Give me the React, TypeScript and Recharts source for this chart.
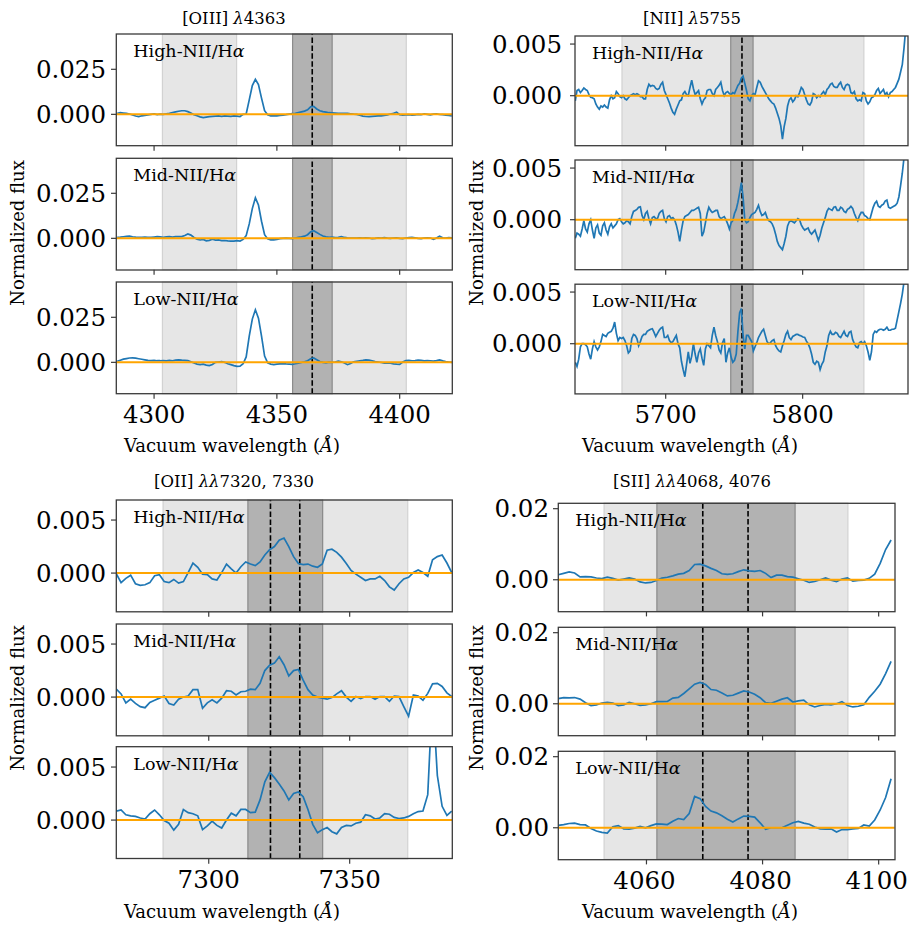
import React from "react";
import {
  LineChart,
  Line,
  XAxis,
  YAxis,
  ReferenceArea,
  ReferenceLine,
} from "recharts";

// flux values are in units of 1e-3 (normalized flux)

// [OIII] 4363, grid 4285 + 1.25 i
const oiiiHigh = [
  0.6, 0.9, 0.7, 0.5, 0.2, -0.4, -0.9, -1.3, -0.8, -0.6,
  -0.3, 0.0, 0.2, -0.1, 0.1, 0.0, 0.3, 0.6, 1.0, 1.4,
  1.7, 2.0, 2.0, 1.5, 0.8, -0.2, -0.8, -1.4, -1.8, -1.5,
  -1.3, -1.1, -1.0, -0.9, -1.1, -0.9, -1.0, -1.1, -0.9, -1.0,
  -1.2, 0.0, 0.2, 8.0, 16.0, 19.4, 16.5, 9.0, 2.0, -0.2,
  -0.8, -0.9, -0.8, -0.6, -0.4, -0.2, 0.1, 0.4, 0.6, 1.0,
  1.4, 1.8, 2.5, 4.2, 4.4, 3.0, 2.0, 1.5, 1.2, 0.9,
  0.8, 0.7, 0.6, 0.6, 0.5, 0.5, 0.3, 0.1, 0.0, -0.5,
  -1.0, -1.2, -1.3, -1.1, -1.0, -0.9, -0.8, -0.6, -0.3, 0.2,
  0.6, 1.2, -0.2, -0.4, -0.3, -0.2, -0.5, -0.3, 0.0, -0.2,
  0.2, 0.0, -0.3, 0.1, 0.3, -0.1, -0.2, -0.4, -0.6, -0.9,
];
const oiiiMid = [
  0.6, 0.7, 0.9, 1.1, 1.2, 0.9, 0.7, 0.6, 0.6, 0.7,
  0.6, 0.5, 0.7, 0.9, 0.8, 0.6, 0.8, 0.9, 0.7, 0.9,
  0.9, 1.0, 1.6, 2.4, 1.8, 0.5, -0.5, -0.9, -0.6, -1.4,
  -1.1, -0.5, -1.0, -0.9, -1.3, -1.2, -1.4, -1.5, -1.5, -1.3,
  -1.5, -0.6, 1.5, 8.0, 16.5, 22.5, 18.5, 9.5, 2.0, -0.3,
  -0.8, -0.9, -0.6, -0.2, 0.0, 0.1, 0.0, -0.1, 0.2, 0.5,
  0.8, 1.2, 2.0, 3.6, 4.2, 3.2, 2.2, 1.3, 0.8, 0.5,
  0.7, 0.4, 0.6, 1.0, 0.5, 0.3, 0.2, 0.1, 0.2, 0.3,
  0.1, 0.3, 0.2, -0.2, 0.0, 0.3, 0.2, 0.4, 0.1, 0.0,
  0.2, 0.3, 0.0, -0.1, 0.2, 0.4, 0.6, 0.3, 0.0, -0.1,
  0.2, 0.3, 0.2, -0.5, 0.2, 1.2, 0.3, 0.1, 0.4, 0.3,
];
const oiiiLow = [
  0.6, 1.2, 1.8, 2.1, 2.4, 2.5, 2.3, 2.0, 1.7, 1.4,
  1.1, 1.0, 1.1, 0.9, 0.9, 1.0, 0.8, 1.1, 0.9, 1.2,
  1.4, 1.2, 1.1, 1.0, 0.3, -0.4, -1.0, -1.3, -1.0, -1.5,
  -1.8, -1.2, 0.0, 0.2, 0.4, 0.0, -0.8, -1.3, -1.8, -2.2,
  -2.1, -0.8, 3.0, 14.5, 24.0, 29.2, 24.5, 14.5, 3.5, -0.3,
  -1.0, -1.3, -1.0, -0.8, -0.7, -0.9, -1.0, -1.1, -0.8, -0.4,
  -0.1, 0.3, 0.9, 2.0, 2.4, 1.5, 0.5, 0.0, -0.3, 0.1,
  0.0, 0.2, 0.7, 0.3, -0.4, -1.3, -0.6, 0.3, 0.6, 0.9,
  1.1, 1.4, 1.2, 0.9, 0.4, 0.2, -0.1, -0.4, -0.3, -0.5,
  -0.8, -1.0, -1.1, 0.2, 1.0, 1.1, 0.9, 1.0, 1.2, 1.1,
  0.8, 1.0, 0.9, 0.7, 1.0, 1.4, 0.8, 0.4, 0.2, 0.0,
];

// [NII] 5755, grid 5634 + 1.25 i
const niiHigh = [
  -0.5, 0.5, 0.6, 0.3, 0.5, 0.75, 0.6, 0.5, 0.1, -0.15,
  -0.2, -0.3, -0.8, -1.1, -1.3, -1.0, -1.1, -0.9, -1.1, -1.2,
  -0.4, 0.0, -0.3, -0.2, 0.4, 0.2, -0.1, -0.2, 0.0, -0.3,
  -0.4, -0.2, 0.0, 0.1, 0.2, 0.1, 0.2, 0.1, -0.1, -0.1,
  -0.3, -0.3, 0.6, 1.1, 0.9, 1.0, 0.95, 0.7, 0.6, 0.7,
  1.1, 1.3, 0.5, 0.1, -0.3, -0.7, -1.2, -1.6, -1.8, -1.3,
  -0.9, -0.5, -0.4, 0.2, 0.4, 0.1, 0.0, 0.8, 1.5, 0.7,
  0.1, 0.3, 0.5, -0.3, -0.8, -0.4, -0.2, 0.5, 0.6, 0.6,
  0.2, 0.0, 0.6, 0.8, 1.0, 1.3, 0.5, 0.0, 0.3, 0.4,
  0.2, 0.1, 0.3, 0.2, 0.6, 1.0, 1.2, 1.7, 1.9, 1.2,
  0.5, -0.3, -0.5, 0.0, 0.2, 0.1, 0.8, 1.45, 1.3, 0.9,
  0.6, 0.3, 0.0, -0.3, -0.5, -0.7, -0.8, -1.2, -1.7, -2.2,
  -2.9, -4.2, -3.0, -2.2, -1.0, -0.4, -0.2, -0.6, -0.4, 0.0,
  -0.1, 0.3, 0.8, 0.6, 0.1, -0.4, -0.8, -0.9, -0.6, 0.2,
  0.1, -0.2, 0.0, -0.1, 0.2, 0.4, 0.1, 0.6, 0.8, 1.1,
  1.2, 0.9, 0.8, 0.8, 1.1, 1.3, 0.8, 0.6, 1.0, 1.1,
  1.0, 0.3, 0.2, 0.4, -0.3, -0.5, -0.4, -0.5, 0.3, 0.2,
  -0.5, -0.8, -0.6, -0.2, -0.1, 0.1, 0.5, 0.7, 0.2, 0.4,
  0.6, 0.1, 0.3, -0.1, 0.3, 0.4, 0.6, 0.8, 1.2, 1.6,
  2.3, 3.0, 4.6, 6.5, 8.5,
];
const niiMid = [
  -1.8, -1.3, -1.4, -1.6, -0.9, -0.1, -0.9, -1.2, -0.4, 0.0,
  -1.0, -1.8, -0.8, -0.5, -1.3, -1.5, -0.6, -0.3, -1.0, -1.4,
  -0.7, -0.4, -0.8, -0.6, -0.4, 0.0, 0.1, -0.2, -0.4, -0.3,
  -0.1, -0.2, -0.4, 0.3, 0.8, 0.9, 1.0, 1.2, 1.25, 0.4,
  0.0, 0.6, 0.8, 0.1, -0.4, 0.2, 0.3, 0.1, 0.1, 0.6,
  0.8, 0.9, 0.1, -0.2, 0.3, 0.4, 0.1, 0.2, 0.0, -0.5,
  -1.2, -2.1, -1.0, -0.1, 0.3, 0.4, 0.5, 0.7, 0.9, 0.9,
  1.0, 1.1, 1.2, 0.6, -1.6, -1.2, -0.3, 0.6, 1.2, 0.9,
  0.7, 0.8, 0.9, 0.9, 0.3, 0.1, 0.2, 0.3, 0.0, -0.4,
  -0.9, -0.3, -0.1, 0.6, 1.0, 1.7, 2.6, 3.6, 2.2, 0.0,
  -0.3, -0.2, 0.2, 0.5, 0.6, 0.7, 1.0, 1.4, 0.8, 0.4,
  0.5, 0.7, 0.2, -0.1, -0.2, -0.4, -0.8, -1.4, -2.1, -2.5,
  -2.7, -2.9, -2.3, -1.6, -0.6, -0.2, -0.1, -0.2, -0.3, -0.1,
  0.1, 0.0, -0.5, -0.8, -1.0, -0.9, -0.8, -1.2, -1.4, -1.2,
  -1.0, -1.5, -2.0, -1.5, -0.8, -0.3, 0.2, 0.8, 1.1, 1.0,
  0.9, 1.2, 1.25, 0.9, 0.9, 1.2, 1.1, 0.8, 0.7, 1.0,
  1.1, 1.3, 1.1, 0.6, 0.2, -0.1, 0.4, 0.7, 0.7, 0.4,
  0.3, 0.1, 0.0, 0.6, 1.2, 1.6, 1.8, 1.3, 1.2, 1.4,
  1.5, 1.8, 1.9, 1.2, 1.1, 1.2, 1.3, 1.4, 1.6, 2.2,
  3.3, 4.5, 6.0, 7.5, 9.0,
];
const niiLow = [
  -1.8, -2.2, -1.5, -0.3, 0.0, 0.0, -0.1, -0.3, -1.0, -1.5,
  -0.5, 0.2, -0.3, -0.6, -0.3, 0.2, 0.9, 0.8, 0.7, 1.0,
  1.1, 1.2, 1.5, 2.1, 1.0, 0.3, 0.6, 0.5, 0.6, 0.3,
  -0.2, -0.9, -0.7, 0.5, 0.9, 0.8, 0.5, -0.2, 0.2, 0.7,
  0.9, 0.9, 1.2, 1.3, 1.4, 1.45, 1.1, 0.7, 1.0, 1.3,
  1.5, 1.6, 0.6, 0.6, 0.8, 0.3, 0.1, 0.2, 0.5, 0.8,
  0.0, -0.4, -1.7, -2.5, -3.2, -2.0, -0.8, -1.9, -1.2, 0.0,
  -1.0, -1.8, -0.9, -0.5, -1.4, -2.1, -0.5, 0.0, -0.2, -0.4,
  0.8, 1.6, 0.8, 0.2, -0.6, -0.9, 0.1, 0.5, -1.8, -0.9,
  -0.4, -1.3, -1.8, -1.6, -1.0, 1.2, 3.0, 3.4, 0.8, -0.5,
  0.8, 0.8, 0.5, 0.2, -0.7, -0.3, 0.1, 0.6, 0.9, 1.2,
  1.4, 0.8, 0.2, 0.0, 0.1, 0.3, 0.4, -0.2, -0.5, -0.7,
  -0.8, -0.2, 0.3, 0.9, 1.2, 0.6, 0.4, 0.7, 0.8, 0.9,
  0.9, 0.8, 0.75, 0.65, 0.6, 0.25, 0.0, -0.4, -1.0, -1.8,
  -2.0, -1.7, -1.8, -2.5, -2.0, -1.7, -0.8, -0.2, 0.8, 1.2,
  0.9, 0.9, 1.1, 1.0, 0.7, 0.6, 0.9, 1.2, 0.8, 0.7,
  1.1, 1.2, 0.4, 0.0, -0.3, -0.4, 0.1, 0.2, 0.0, 0.2,
  -0.2, -0.8, -1.6, -0.8, 0.9, 1.2, 1.1, 1.3, 1.4, 1.4,
  1.3, 1.4, 1.6, 1.3, 1.3, 1.4, 1.4, 1.5, 2.3, 3.1,
  3.9, 4.8, 6.0, 7.5, 9.0,
];

// [OII] 7320,7330, grid 7267.2 + 1.7 i
const oiiHigh = [
  -0.06, -0.9, -0.5, -0.2, -1.0, -1.15, -1.1, -0.9, -0.25, -0.15,
  -0.8, -0.9, -0.6, -0.95, -0.8, 0.05, 0.95, 0.55, -0.1, -0.15,
  -0.55, -0.65, 0.05, 0.85, 0.4, 0.0, 0.6, 1.05, 0.85, 0.7,
  1.05, 1.7, 2.2, 2.5, 3.1, 3.3, 2.5, 1.55, 0.9, 0.8,
  0.85, 0.65, 0.55, 0.85, 2.15, 2.25, 1.95, 1.5, 0.9, 0.25,
  -0.1, -0.4, -0.7, -0.55, -0.55, -0.3, -0.7, -1.3, -1.6, -1.0,
  -0.55, -0.4, 0.05, 0.3, 0.05, -0.3, 1.25, 1.55, 1.7, 0.95,
  0.05,
];
const oiiMid = [
  0.75, 0.3, -0.55, -0.2, -0.6, -0.9, -1.0, -0.5, -0.3, -0.1,
  0.1, -0.6, -0.75, -0.2, 0.0, 0.1, 0.7, 0.7, -1.05, -0.55,
  -0.25, -0.55, -0.1, 0.6, 0.55, 0.2, 0.5, 0.55, 0.75, 0.7,
  1.3, 2.5, 3.0, 3.2, 3.8, 3.05, 2.0, 2.5, 2.6, 1.6,
  0.7, 0.2, 0.0, -0.1, -0.2, -0.05, 0.3, 0.6, 0.0, -0.4,
  0.05, -0.15, 0.05, 0.05, -0.2, 0.05, 0.05, -0.4, 0.1, 0.05,
  -0.9, -1.8, 0.2, 0.1, -0.3, 0.35, 1.25, 1.3, 1.0, 0.4,
  0.05,
];
const oiiLow = [
  0.85, 0.95, 0.5, 0.4, 0.35, 0.2, 0.1, 0.6, 0.95, 0.5,
  -0.05, -0.3, -0.95, -0.4, 1.0, 0.7, 0.6, 0.4, -0.9, -0.55,
  -0.1, -0.5, -0.75, 0.0, 0.65, 0.4, 1.0, 1.0, 0.7, 0.75,
  1.9, 3.6, 4.5, 4.0, 3.4, 2.75, 1.9, 2.5, 2.65, 2.2,
  1.0, -0.4, -1.2, -0.9, -0.7, -1.1, -1.3, -0.7, -0.5, -0.55,
  -0.3, -0.2, 0.5, 0.4, 0.1, 0.2, 0.6, 0.55, 0.25, 0.15,
  0.2, 0.35, 0.6, 0.8, 0.85, 2.4, 12.0, 4.2, 1.3, 0.45,
  0.85,
];

// [SII] 4068,4076, grid 4044.8 + 0.94 i
const siiHigh = [
  1.4, 1.8, 2.2, 1.9, 0.8, 0.9, 0.8, 0.5, 0.35, 0.75,
  0.4, -0.1, 0.2, 0.5, 0.2, -0.6, -0.9, -0.75, -0.2, 0.45,
  0.7, 1.1, 1.6, 1.8, 2.6, 4.3, 4.4, 3.9, 3.2, 2.6,
  1.7, 1.5, 1.7, 2.3, 2.8, 2.5, 2.35, 2.6, 1.8, 0.6,
  1.3, 1.3, 0.9, 0.75, 0.3, -0.15, -0.75, -0.5, 0.0, 0.5,
  -0.1, -0.5, 0.2, 0.5, -0.4, -0.2, -0.1, 0.4, 1.6, 4.6,
  8.5, 11.2,
];
const siiMid = [
  1.45, 1.75, 1.65, 1.75, 1.3, 0.3, -0.5, -0.3, 0.2, 0.4,
  0.2, -0.5, -0.3, 0.4, 0.0, -0.45, -0.3, 0.0, 0.6, 0.6,
  0.65, 1.6, 1.8, 2.9, 4.2, 5.5, 6.0, 5.4, 4.0, 3.8,
  3.0, 2.2, 2.4, 3.0, 3.6, 3.3, 2.7, 1.7, 0.3, 0.1,
  0.7, 1.3, 1.7, 0.5, 0.8, 1.0, -0.3, -0.9, -0.5, -0.2,
  -0.3, 0.0, 0.6, -0.5, -0.9, -0.7, -0.3, 1.8, 3.5, 5.5,
  8.5, 11.9,
];
const siiLow = [
  0.65, 0.9, 1.2, 1.3, 0.9, 0.8, -0.2, -0.9, -1.3, -1.5,
  0.3, 0.6, -0.3, -0.4, -0.1, 0.4, 0.0, 0.6, 1.1, 1.0,
  0.9, 1.8, 2.6, 2.3, 4.0, 8.8, 8.2, 6.0, 4.7, 4.2,
  3.4, 2.4, 1.6, 2.5, 3.3, 3.2, 3.0, 1.4, -0.4, 0.0,
  0.0, 0.0, 0.7, 1.4, 1.8, 1.3, 1.0, 0.2, -0.3, -0.4,
  -0.3, -1.2, -0.5, -0.5, -0.3, -0.2, 0.8, 0.5, 2.2, 5.0,
  8.5, 13.8,
];

// wavelength windows (vacuum, Angstrom)
const oiiiSide = [[4303.4, 4333.6], [4372.5, 4402.7]];
const oiiiCore = [[4356.4, 4372.5]];
const oiiiLines = [4364.4];
const niiSide = [[5668.1, 5844.7]];
const niiCore = [[5747.5, 5763.8]];
const niiLines = [5755.7];
const oiiSide = [[7283.8, 7313.9], [7340.4, 7370.6]];
const oiiCore = [[7313.9, 7340.4]];
const oiiLines = [7321.9, 7332.3];
const siiSide = [[4052.7, 4061.8], [4085.6, 4094.7]];
const siiCore = [[4061.8, 4085.6]];
const siiLines = [4069.7, 4077.5];

const binLabels = ["High-NII/H", "Mid-NII/H", "Low-NII/H"];

const SERIF = "DejaVu Serif";
const FRAME = "#3a3a3a";

const groups = [
  {
    title: "[OIII] ", lam: "λ", rest: "4363",
    start: 4285, step: 1.25, series: [oiiiHigh, oiiiMid, oiiiLow],
    xDomain: [4284.5, 4421.3], yDomain: [-17.4, 44.6],
    xTicks: [4300, 4350, 4400], yTicks: [0, 25], digits: 3,
    side: oiiiSide, core: oiiiCore, lines: oiiiLines,
    left: 116.3, width: 336, tops: [34, 158.3, 282], height: 111.7,
    yGap: 5, xDx: 0, colX: 232, titleY: 24, xlabY: 452, ylabX: 23.5, ylabY: 233,
  },
  {
    title: "[NII] ", lam: "λ", rest: "5755",
    start: 5634, step: 1.25, series: [niiHigh, niiMid, niiLow],
    xDomain: [5633.8, 5876.9], yDomain: [-4.84, 5.78],
    xTicks: [5700, 5800], yTicks: [0, 5], digits: 3,
    side: niiSide, core: niiCore, lines: niiLines,
    left: 575, width: 333, tops: [36, 160, 284.2], height: 109.7,
    yGap: 8, xDx: 0, colX: 690, titleY: 24, xlabY: 452, ylabX: 482.5, ylabY: 233,
  },
  {
    title: "[OII] ", lam: "λλ", rest: "7320, 7330",
    start: 7267.2, step: 1.7, series: [oiiHigh, oiiMid, oiiLow],
    xDomain: [7267.1, 7386.3], yDomain: [-3.65, 6.89],
    xTicks: [7300, 7350], yTicks: [0, 5], digits: 3,
    side: oiiSide, core: oiiCore, lines: oiiLines,
    left: 116.3, width: 336, tops: [500, 624, 746.7], height: 111.8,
    yGap: 5, xDx: 0, colX: 232, titleY: 486.5, xlabY: 918, ylabX: 23.5, ylabY: 698,
  },
  {
    title: "[SII] ", lam: "λλ", rest: "4068, 4076",
    start: 4044.8, step: 0.94, series: [siiHigh, siiMid, siiLow],
    xDomain: [4044.76, 4102.76], yDomain: [-8.9, 21.6],
    xTicks: [4060, 4080, 4100], yTicks: [0, 20], digits: 2,
    side: siiSide, core: siiCore, lines: siiLines,
    left: 558.3, width: 336.7, tops: [503.3, 627.3, 751.3], height: 108.4,
    yGap: 4, xDx: -2, colX: 690, titleY: 487, xlabY: 918, ylabX: 482.5, ylabY: 698,
  },
];

type Group = (typeof groups)[number];

const Y_W = 100;

function toRows(values: number[], start: number, step: number) {
  return values.map((v, i) => ({ x: start + i * step, y: v }));
}

function Panel({ g, idx }: { g: Group; idx: number }) {
  const bottom = idx === 2;
  const xh = bottom ? 44 : 6;
  const data = toRows(g.series[idx], g.start, g.step);
  const tickText = { fill: "#000", fontSize: 24.5, fontFamily: SERIF };
  return (
    <div style={{ position: "absolute", left: g.left - Y_W, top: g.tops[idx] }}>
      <LineChart
        width={Y_W + g.width}
        height={g.height + xh}
        data={data}
        margin={{ top: 0, right: 0, bottom: 0, left: 0 }}
      >
        <XAxis
          dataKey="x"
          type="number"
          domain={g.xDomain}
          allowDataOverflow
          ticks={g.xTicks}
          interval={0}
          height={xh}
          tickSize={5}
          tickMargin={7}
          axisLine={false}
          tickLine={{ stroke: FRAME, strokeWidth: 1.2 }}
          tick={{ ...tickText, dx: g.xDx }}
          tickFormatter={(v: number) => (bottom ? String(v) : "")}
        />
        <YAxis
          type="number"
          domain={g.yDomain}
          allowDataOverflow
          ticks={g.yTicks}
          interval={0}
          width={Y_W}
          tickSize={5}
          tickMargin={g.yGap}
          axisLine={false}
          tickLine={{ stroke: FRAME, strokeWidth: 1.2 }}
          tick={tickText}
          tickFormatter={(v: number) => (v / 1000).toFixed(g.digits)}
        />
        {g.side.map(([a, b], k) => (
          <ReferenceArea
            key={"s" + k}
            x1={a}
            x2={b}
            fill="#e6e6e6"
            fillOpacity={1}
            stroke="#d2d2d2"
            strokeWidth={1.2}
          />
        ))}
        {g.core.map(([a, b], k) => (
          <ReferenceArea
            key={"c" + k}
            x1={a}
            x2={b}
            fill="#b2b2b2"
            fillOpacity={1}
            stroke="#8c8c8c"
            strokeWidth={1.2}
          />
        ))}
        {g.lines.map((w) => (
          <ReferenceLine
            key={"l" + w}
            x={w}
            stroke="#000"
            strokeWidth={1.6}
            strokeDasharray="5.5 2.4"
          />
        ))}
        <Line
          type="linear"
          dataKey="y"
          stroke="#1f77b4"
          strokeWidth={1.7}
          dot={false}
          isAnimationActive={false}
        />
        <ReferenceLine y={0} stroke="#ffa500" strokeWidth={2} />
      </LineChart>
    </div>
  );
}

export default function App() {
  return (
    <div
      style={{
        position: "absolute",
        left: 0,
        top: 0,
        width: 909,
        height: 926,
        background: "#fff",
        overflow: "hidden",
      }}
    >
      <style>{".recharts-surface{overflow:visible}"}</style>
      {groups.map((g, gi) =>
        [0, 1, 2].map((idx) => <Panel key={gi + "-" + idx} g={g} idx={idx} />)
      )}
      <svg
        width={909}
        height={926}
        style={{ position: "absolute", left: 0, top: 0, pointerEvents: "none" }}
      >
        {groups.map((g, gi) => (
          <g key={"o" + gi} fontFamily={SERIF} fill="#000">
            {g.tops.map((t, idx) => (
              <rect
                key={"f" + idx}
                x={g.left}
                y={t}
                width={g.width}
                height={g.height}
                fill="none"
                stroke={FRAME}
                strokeWidth={1.3}
              />
            ))}
            {g.tops.map((t, idx) => (
              <text key={"a" + idx} x={g.left + 17} y={t + 23} fontSize={17.5}>
                {binLabels[idx]}
                <tspan fontStyle="italic">α</tspan>
              </text>
            ))}
            <text x={g.colX + 2} y={g.titleY} fontSize={16.5} textAnchor="middle">
              {g.title}
              <tspan fontStyle="italic">{g.lam}</tspan>
              {g.rest}
            </text>
            <text x={g.colX} y={g.xlabY} fontSize={18} textAnchor="middle">
              Vacuum wavelength (
              <tspan fontStyle="italic">Å</tspan>)
            </text>
            <text
              x={g.ylabX}
              y={g.ylabY}
              fontSize={18}
              textAnchor="middle"
              transform={`rotate(-90 ${g.ylabX} ${g.ylabY})`}
            >
              Normalized flux
            </text>
          </g>
        ))}
      </svg>
    </div>
  );
}
